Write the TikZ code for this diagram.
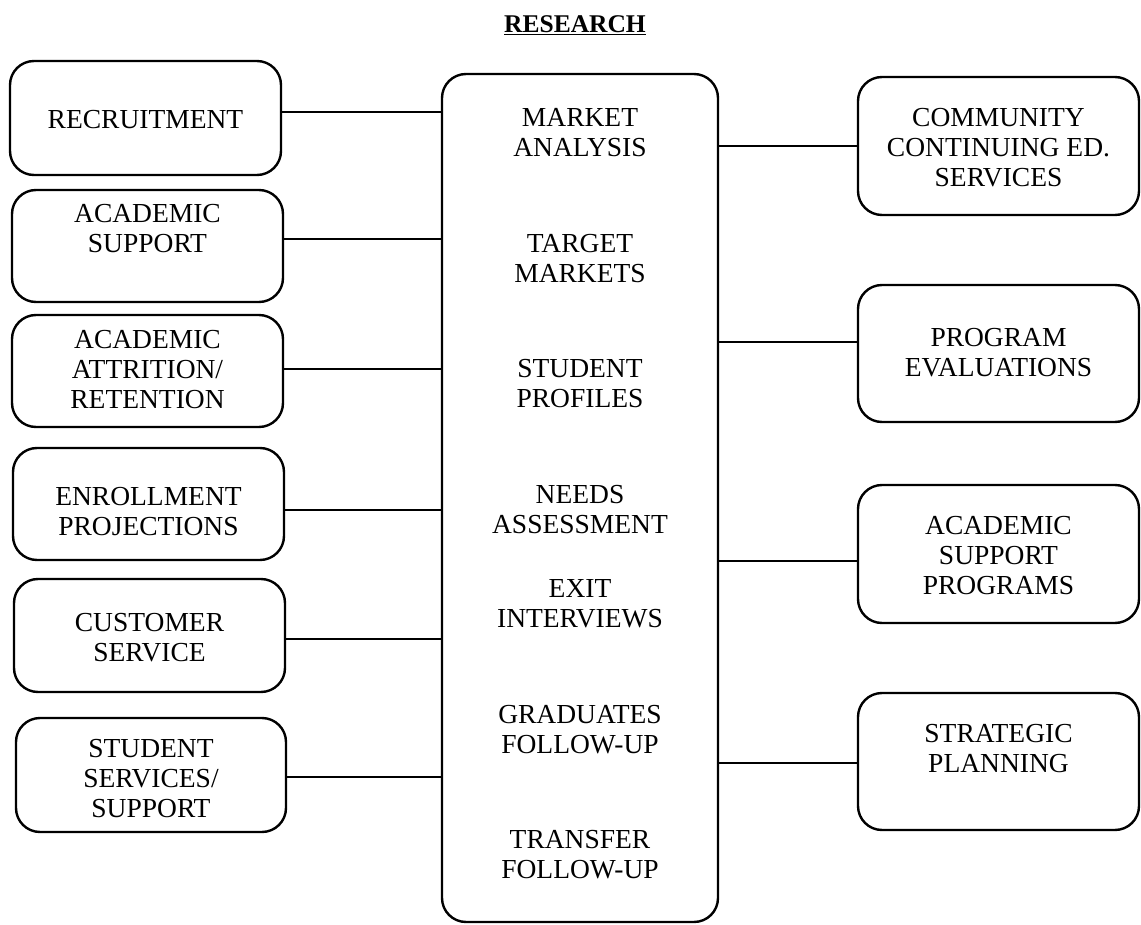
\documentclass[tikz,border=0pt]{standalone}
\usepackage{fontspec}
\setmainfont{Liberation Serif}
\usetikzlibrary{calc}
\tikzset{
  box/.style={draw, line width=2.4pt, rounded corners=24pt, inner sep=0pt},
  lbl/.style={align=center, font=\fontsize{27.5}{30}\selectfont, inner sep=0pt},
  link/.style={line width=2.4pt},
  ttl/.style={font=\bfseries\fontsize{25.5}{28}\selectfont, inner sep=0pt},
}
\begin{document}
\begin{tikzpicture}[x=1pt,y=-1pt]
\useasboundingbox (0,0) rectangle (1141,925);

% title
\node[ttl, anchor=base] (title) at (575,33) {\underline{RESEARCH}};

% centre box
\node[box, minimum width=276pt, minimum height=848pt] (ctr) at (580,498) {};
\node[lbl] (c1) at (580,133) {MARKET\\ANALYSIS};
\node[lbl] (c2) at (580,258.5) {TARGET\\MARKETS};
\node[lbl] (c3) at (580,383.5) {STUDENT\\PROFILES};
\node[lbl] (c4) at (580,510) {NEEDS\\ASSESSMENT};
\node[lbl] (c5) at (580,604) {EXIT\\INTERVIEWS};
\node[lbl] (c6) at (580,730) {GRADUATES\\FOLLOW-UP};
\node[lbl] (c7) at (580,855) {TRANSFER\\FOLLOW-UP};

% left boxes
\node[box, minimum width=271pt, minimum height=114pt] (l1) at (145.5,118) {};
\node[lbl] (l1t) at (145.5,120) {RECRUITMENT};
\node[box, minimum width=271pt, minimum height=112pt] (l2) at (147.5,246) {};
\node[lbl] (l2t) at (147.5,229) {ACADEMIC\\SUPPORT};
\node[box, minimum width=271pt, minimum height=112pt] (l3) at (147.5,371) {};
\node[lbl] (l3t) at (147.5,370) {ACADEMIC\\ATTRITION/\\RETENTION};
\node[box, minimum width=271pt, minimum height=112pt] (l4) at (148.5,504) {};
\node[lbl] (l4t) at (148.5,512) {ENROLLMENT\\PROJECTIONS};
\node[box, minimum width=271pt, minimum height=113pt] (l5) at (149.5,635.5) {};
\node[lbl] (l5t) at (149.5,637.5) {CUSTOMER\\SERVICE};
\node[box, minimum width=270pt, minimum height=114pt] (l6) at (151,775) {};
\node[lbl] (l6t) at (151,779) {STUDENT\\SERVICES/\\SUPPORT};

% right boxes
\node[box, minimum width=281pt, minimum height=138pt] (r1) at (998.5,146) {};
\node[lbl] (r1t) at (998.5,148) {COMMUNITY\\CONTINUING ED.\\SERVICES};
\node[box, minimum width=281pt, minimum height=137pt] (r2) at (998.5,353.5) {};
\node[lbl] (r2t) at (998.5,353) {PROGRAM\\EVALUATIONS};
\node[box, minimum width=281pt, minimum height=138pt] (r3) at (998.5,554) {};
\node[lbl] (r3t) at (998.5,556) {ACADEMIC\\SUPPORT\\PROGRAMS};
\node[box, minimum width=281pt, minimum height=137pt] (r4) at (998.5,761.5) {};
\node[lbl] (r4t) at (998.5,749) {STRATEGIC\\PLANNING};

% connector heights
\coordinate (y1) at (0,112);
\coordinate (y2) at (0,239);
\coordinate (y3) at (0,369);
\coordinate (y4) at (0,510);
\coordinate (y5) at (0,639);
\coordinate (y6) at (0,777);
\coordinate (z1) at (0,146);
\coordinate (z2) at (0,342);
\coordinate (z3) at (0,561);
\coordinate (z4) at (0,763);

\draw[link] (l1.east |- y1) -- (ctr.west |- y1);
\draw[link] (l2.east |- y2) -- (ctr.west |- y2);
\draw[link] (l3.east |- y3) -- (ctr.west |- y3);
\draw[link] (l4.east |- y4) -- (ctr.west |- y4);
\draw[link] (l5.east |- y5) -- (ctr.west |- y5);
\draw[link] (l6.east |- y6) -- (ctr.west |- y6);
\draw[link] (ctr.east |- z1) -- (r1.west |- z1);
\draw[link] (ctr.east |- z2) -- (r2.west |- z2);
\draw[link] (ctr.east |- z3) -- (r3.west |- z3);
\draw[link] (ctr.east |- z4) -- (r4.west |- z4);
\end{tikzpicture}
\end{document}
